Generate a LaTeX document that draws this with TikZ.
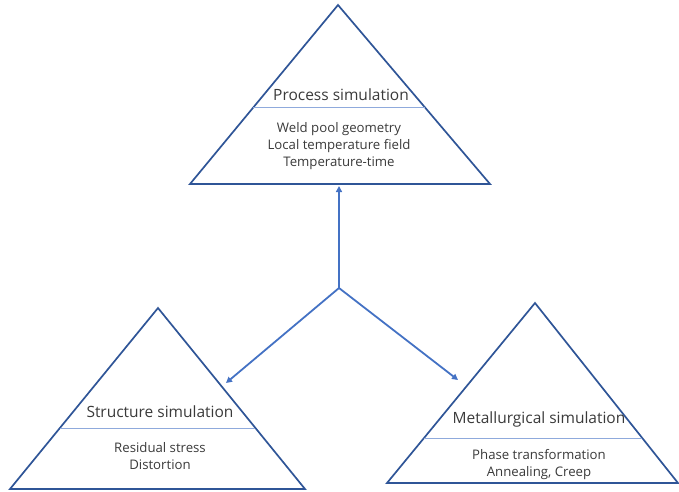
\documentclass[tikz,border=0pt]{standalone}
\usepackage{fontspec}
\setmainfont{Open Sans}
\usetikzlibrary{calc,arrows.meta}
\definecolor{triblue}{HTML}{2F5597}
\definecolor{linkblue}{HTML}{4472C4}
\definecolor{sepblue}{HTML}{8FAADC}
\definecolor{txtgray}{HTML}{3A3A3A}

\begin{document}
\begin{tikzpicture}[x=1pt,y=-1pt,
    tri/.style={draw=triblue, line width=1.7pt, line join=miter},
    sep/.style={draw=sepblue, line width=0.9pt},
    link/.style={draw=linkblue, line width=1.8pt, -{Triangle[length=6pt,width=6pt]}},
    title/.style={font=\fontsize{15.5}{18}\selectfont, text=txtgray, inner sep=0pt},
    body/.style={font=\fontsize{13.2}{17}\selectfont, text=txtgray, align=center, inner sep=0pt}]
    \useasboundingbox (0,0) rectangle (679,491);

      % Process simulation
      \coordinate (p1) at (338,5);
      \coordinate (p2) at (190,184);
      \coordinate (p3) at (490,184);
      \draw[tri] (p1) -- (p2) -- (p3) -- cycle;
      \draw[sep] ($(p1)!0.575!(p2)$) -- ($(p1)!0.575!(p3)$);
      \node[title] (proc) at (341,95) {Process simulation};
      \node[body] (procitems) at (339,146) {Weld pool geometry\\Local temperature field\\Temperature-time};

      % Structure simulation
      \coordinate (s1) at (158,308);
      \coordinate (s2) at (10,489);
      \coordinate (s3) at (305,489);
      \draw[tri] (s1) -- (s2) -- (s3) -- cycle;
      \draw[sep] ($(s1)!0.663!(s2)$) -- ($(s1)!0.663!(s3)$);
      \node[title] (struc) at (160,412) {Structure simulation};
      \node[body] (strucitems) at (160,456) {Residual stress\\Distortion};

      % Metallurgical simulation
      \coordinate (m1) at (535,303);
      \coordinate (m2) at (387,483);
      \coordinate (m3) at (678,483);
      \draw[tri] (m1) -- (m2) -- (m3) -- cycle;
      \draw[sep] ($(m1)!0.75!(m2)$) -- ($(m1)!0.75!(m3)$);
      \node[title] (metal) at (539,419) {Metallurgical simulation};
      \node[body] (metalitems) at (539,465) {Phase transformation\\Annealing, Creep};

      % links
      \coordinate (hub) at (339,288);
      \coordinate (toproc) at (339,186);
      \coordinate (tostruc) at (226,383);
      \coordinate (tometal) at (458,380);
      \draw[link] (hub) -- (toproc);
      \draw[link] (hub) -- (tostruc);
      \draw[link] (hub) -- (tometal);
    \end{tikzpicture}
\end{document}
